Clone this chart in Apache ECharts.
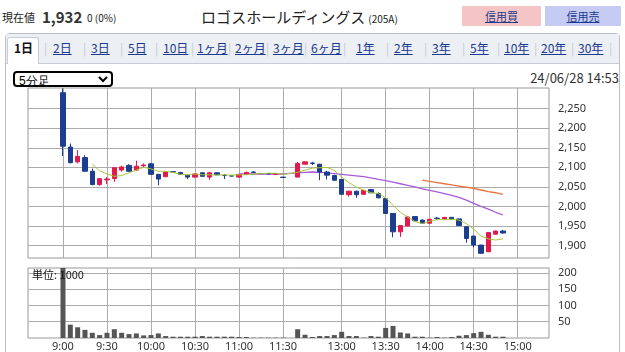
<!DOCTYPE html>
<html>
<head>
<meta charset="utf-8">
<script src="https://cdn.jsdelivr.net/npm/echarts@6/dist/echarts.min.js"></script>
<style>
  body { margin: 0; width: 625px; height: 352px; overflow: hidden; background: #fff;
         font-family: "Noto Sans CJK JP", "Noto Sans", sans-serif; color: #222; position: relative; }
  .abs { position: absolute; white-space: nowrap; }
  a { color: #1a3a8c; text-decoration: underline; }
  #panel { left: 5px; top: 33px; width: 613px; height: 340px; border: 1px solid #b9bfcc; border-radius: 4px; }
  #tabbar { left: 6px; top: 34px; width: 613px; height: 29px; background: #eceff4; border-bottom: 1px solid #c6cbd6; }
  #sel { left: 13px; top: 71px; width: 100px; height: 16px; border: 2px solid #000; border-radius: 4px;
         font-size: 12px; padding: 0; background: #fff; }
  .btn { top: 6px; height: 20px; font-size: 11px; line-height: 20px; text-align: center; }
  .tab { top: 40px; font-size: 12px; line-height: 16px; }
  .sep { top: 40px; font-size: 12px; color: #c4c8d2; line-height: 16px; }
  #chart { position: absolute; left: 0; top: 85px; width: 625px; height: 267px; }
</style>
</head>
<body>
<div class="abs" style="left:2px;top:9px;font-size:11px;">現在値</div>
<div class="abs" style="left:42px;top:6px;font-size:15px;font-weight:bold;color:#333;">1,932</div>
<div class="abs" style="left:87px;top:10px;font-size:10px;">0 (0%)</div>
<div class="abs" style="left:201px;top:6px;font-size:15px;">ロゴスホールディングス<span style="font-size:10px;margin-left:3px;">(205A)</span></div>
<div class="abs btn" style="left:462px;width:79px;background:#f5c4c4;"><a>信用買</a></div>
<div class="abs btn" style="left:545px;width:76px;background:#c6cbf3;"><a>信用売</a></div>

<div class="abs" id="panel"></div>
<div class="abs" id="tabbar"></div>
<div class="abs" style="left:7px;top:37px;width:30px;height:26px;background:#fff;border:1px solid #c6cbd6;border-bottom:none;border-radius:3px 3px 0 0;"></div>
<div id="tabs"></div>

<select class="abs" id="sel"><option>5分足</option></select>
<div class="abs" style="right:6px;top:68px;font-size:13px;color:#333;">24/06/28 14:53</div>

<div id="chart"></div>
<script>
// 5分足 time slots (lunch break compressed to one blank slot)
const times = [
  '9:00','9:05','9:10','9:15','9:20','9:25','9:30','9:35','9:40','9:45','9:50','9:55',
  '10:00','10:05','10:10','10:15','10:20','10:25','10:30','10:35','10:40','10:45','10:50','10:55',
  '11:00','11:05','11:10','11:15','11:20','11:25','11:30','',
  '12:30','12:35','12:40','12:45','12:50','12:55',
  '13:00','13:05','13:10','13:15','13:20','13:25','13:30','13:35','13:40','13:45','13:50','13:55',
  '14:00','14:05','14:10','14:15','14:20','14:25','14:30','14:35','14:40','14:45','14:50','14:55','15:00'
];
const axisTimes = ['9:00','9:30','10:00','10:30','11:00','11:30','13:00','13:30','14:00','14:30','15:00'];

// candles per slot: open, close, low, high (null = no trade)
const opens  = [2291,2152,2114,2125,2090,2056,2068,2071,2093,2105,2093,2104,2109,2082,2076,2089,2087,2080,2075,2086,2075,2086,2079,2078,2075,2082,2088,2084,2084,2082,2075,null,
                2075,2108,2111,2108,2088,2079,2069,2030,2039,2031,2043,2033,2020,1982,1935,1950,1974,1965,1957,1970,1968,1972,1968,1948,1924,1901,1884,1929,1937];
const closes = [2154,2112,2128,2090,2056,2071,2070,2099,2101,2090,2103,2106,2082,2070,2088,2088,2082,2075,2083,2077,2086,2081,2079,2078,2082,2087,2087,2084,2083,2084,2074,null,
                2110,2114,2110,2088,2080,2067,2031,2039,2030,2041,2035,2022,1982,1935,1951,1973,1963,1957,1967,1969,1972,1968,1951,1918,1901,1880,1933,1937,1932];
const lows   = [2129,2110,2110,2090,2054,2053,2057,2063,2089,2088,2091,2100,2082,2054,2075,2086,2081,2070,2074,2076,2068,2080,2070,2077,2074,2081,2085,2083,2082,2081,2074,null,
                2074,2107,2106,2067,2069,2066,2030,2025,2022,2030,2034,2021,1981,1921,1922,1949,1962,1956,1956,1966,1967,1967,1950,1907,1895,1879,1883,1928,1930];
const highs  = [2302,2161,2144,2131,2097,2073,2075,2100,2104,2108,2117,2110,2111,2083,2090,2090,2088,2081,2084,2087,2087,2087,2083,2079,2083,2089,2090,2086,2085,2085,2075,null,
                2114,2115,2114,2109,2091,2081,2070,2040,2040,2042,2045,2036,2021,1983,1952,1975,1975,1966,1968,1973,1973,1973,1969,1949,1925,1902,1934,1938,1940];

const ma5  = [null,null,null,null,2108,2091,2083,2077,2079,2086,2093,2100,2096,2090,2090,2087,2082,2081,2083,2081,2081,2080,2081,2080,2081,2081,2083,2084,2085,2085,2082,null,
              2087,2093,2098,2099,2100,2092,2075,2061,2049,2042,2035,2033,2022,2003,1985,1973,1961,1956,1962,1966,1966,1967,1965,1956,1942,1924,1917,1914,1917];
const ma25 = [null,null,null,null,null,null,null,null,null,null,null,null,null,null,null,null,null,null,null,null,null,null,null,null,2083,2083,2083,2083,2083,2083,2083,null,
              2086,2087,2088,2087,2086,2084,2082,2080,2078,2076,2073,2069,2066,2062,2058,2054,2050,2045,2041,2037,2033,2028,2023,2016,2008,2000,1993,1985,1978];
const ma75 = [null,null,null,null,null,null,null,null,null,null,null,null,null,null,null,null,null,null,null,null,null,null,null,null,null,null,null,null,null,null,null,null,
              null,null,null,null,null,null,null,null,null,null,null,null,null,null,null,null,null,2067,2064,2061,2058,2055,2052,2049,2046,2042,2038,2035,2031];

// 出来高 (単位: 1000)
const volumes = [260,41,33,25,16,9,16,27,16,12,14,8,9,14,6,4,4,4,4,6,4,4,4,4,3,3,1,1,1,1,1,null,
                 27,10,3,6,6,9,19,6,6,1,6,4,31,37,17,14,4,4,1,3,1,3,7,9,15,19,10,4,4];

const priceTicks = [1900,1950,2000,2050,2100,2150,2200,2250];
const volumeTicks = [50,100,150,200];

const upColor = '#e3194e';
const downColor = '#1d3d8f';
const gridColor = '#ababab';

// tab links
const tabNames = ['1日','2日','3日','5日','10日','1ヶ月','2ヶ月','3ヶ月','6ヶ月','1年','2年','3年','5年','10年','20年','30年'];
const tabX = [14,53,91,128,163,197,235,273,311,356,394,432,470,504,541,578];
const sepX = [44,83,120,155,191,228,266,304,343,386,424,462,497,534,571,609];
let html = '';
tabNames.forEach((t, i) => {
  if (i === 0) html += `<div class="abs tab" style="left:${tabX[i]}px;font-weight:bold;color:#111;">${t}</div>`;
  else html += `<div class="abs tab" style="left:${tabX[i]}px;"><a>${t}</a></div>`;
  html += `<div class="abs sep" style="left:${sepX[i]}px;">|</div>`;
});
document.getElementById('tabs').innerHTML = html;

const slotOf = (t) => times.indexOf(t);
const candles = [];
const vols = [];
const line = (arr) => arr.map((v, i) => [i, v]).filter(d => d[1] !== null);
opens.forEach((o, i) => {
  if (o === null) return;
  candles.push([i, o, closes[i], lows[i], highs[i]]);
});
volumes.forEach((v, i) => { if (v !== null) vols.push([i, v]); });

const xTicks = axisTimes.map(slotOf);
const xMin = -4.77, xMax = 66.27;

const chart = echarts.init(document.getElementById('chart'));
chart.setOption({
  animation: false,
  grid: [
    { left: 28, top: 3, width: 521, height: 170, show: true, borderColor: '#999', borderWidth: 1, backgroundColor: '#fff' },
    { left: 28, top: 183, width: 521, height: 71, show: true, borderColor: '#999', borderWidth: 1, backgroundColor: '#fff' }
  ],
  xAxis: [
    {
      type: 'value', gridIndex: 0, min: xMin, max: xMax,
      axisLine: { show: false }, axisLabel: { show: false },
      axisTick: { show: false, customValues: xTicks },
      splitLine: { show: true, lineStyle: { color: gridColor } }
    },
    {
      type: 'value', gridIndex: 1, min: xMin, max: xMax,
      axisLine: { show: false },
      axisTick: { show: false, customValues: xTicks },
      axisLabel: {
        customValues: xTicks, margin: 3, fontSize: 11, color: '#333', fontFamily: 'Noto Sans',
        formatter: (v) => times[v]
      },
      splitLine: { show: true, lineStyle: { color: gridColor } }
    }
  ],
  yAxis: [
    {
      type: 'value', gridIndex: 0, position: 'right', min: 1868, max: 2303,
      axisLine: { show: false },
      axisTick: { show: true, length: 5, customValues: priceTicks, lineStyle: { color: gridColor } },
      axisLabel: {
        customValues: priceTicks, margin: 9, fontSize: 11, color: '#333', fontFamily: 'Noto Sans',
        formatter: (v) => v.toLocaleString('en-US')
      },
      splitLine: { show: true, lineStyle: { color: gridColor } }
    },
    {
      type: 'value', gridIndex: 1, position: 'right', min: 0, max: 215,
      axisLine: { show: false },
      axisTick: { show: true, length: 5, customValues: volumeTicks, lineStyle: { color: gridColor } },
      axisLabel: { customValues: volumeTicks, margin: 9, fontSize: 11, color: '#333', fontFamily: 'Noto Sans' },
      splitLine: { show: true, lineStyle: { color: gridColor } }
    }
  ],
  series: [
    {
      type: 'candlestick', xAxisIndex: 0, yAxisIndex: 0,
      data: candles, encode: { x: 0, y: [1, 2, 3, 4] },
      barWidth: 5,
      itemStyle: { color: upColor, color0: downColor, borderColor: upColor, borderColor0: downColor, borderWidth: 1 },
      z: 3
    },
    {
      type: 'line', xAxisIndex: 0, yAxisIndex: 0, data: line(ma5),
      showSymbol: false, lineStyle: { color: '#a8c83a', width: 1 }, z: 4
    },
    {
      type: 'line', xAxisIndex: 0, yAxisIndex: 0, data: line(ma25),
      showSymbol: false, lineStyle: { color: '#a95ad9', width: 1.3 }, z: 2
    },
    {
      type: 'line', xAxisIndex: 0, yAxisIndex: 0, data: line(ma75),
      showSymbol: false, lineStyle: { color: '#e8713d', width: 1.3 }, z: 2
    },
    {
      type: 'bar', xAxisIndex: 1, yAxisIndex: 1, data: vols,
      barWidth: 5, itemStyle: { color: '#555' }
    }
  ],
  graphic: [
    { type: 'text', left: 32, top: 184, z: 100,
      style: { text: '単位: 1000', fontSize: 11, fill: '#111', fontFamily: 'Noto Sans CJK JP' } }
  ]
});
</script>
</body>
</html>
